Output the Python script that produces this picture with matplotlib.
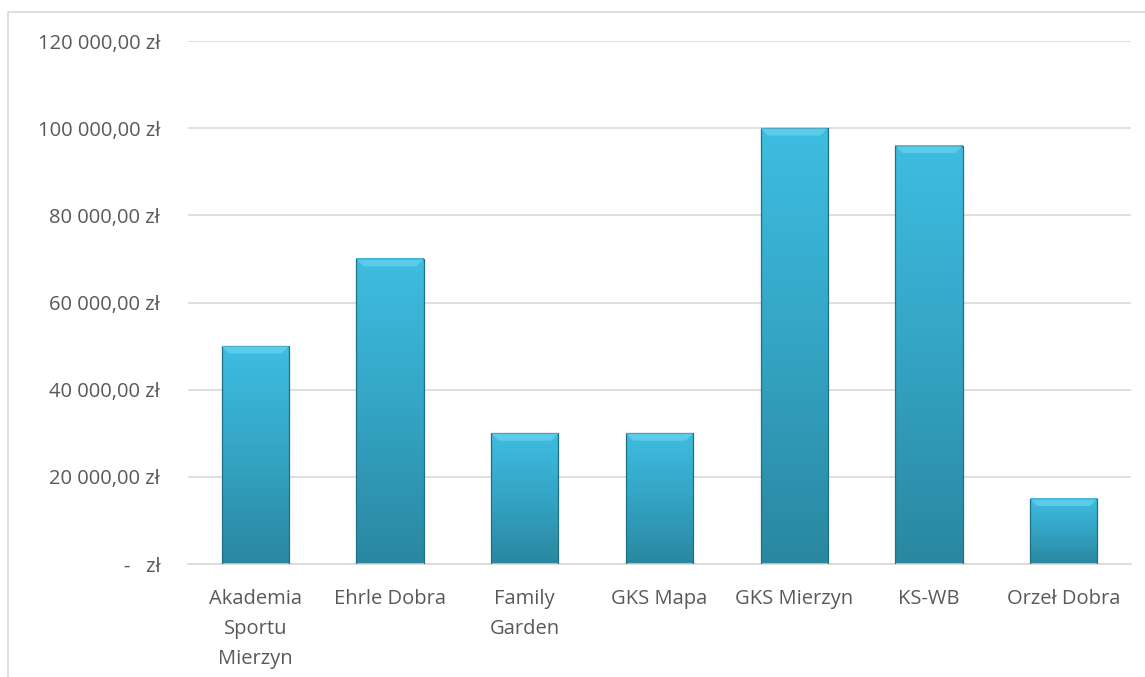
import matplotlib.pyplot as plt
import numpy as np
from matplotlib.ticker import FuncFormatter
from matplotlib.patches import Rectangle
from matplotlib.colors import LinearSegmentedColormap

plt.rcParams['font.family'] = ['Open Sans', 'DejaVu Sans']

labels = ['Akademia\nSportu\nMierzyn', 'Ehrle Dobra', 'Family\nGarden', 'GKS Mapa',
          'GKS Mierzyn', 'KS-WB', 'Orzeł Dobra']
values = [50000, 70000, 30000, 30000, 100000, 96000, 15000]
yticks = [0, 20000, 40000, 60000, 80000, 100000, 120000]

FONT_SIZE = 14.5
TEXT_COLOR = '#595959'
GRID_COLOR = '#d9d9d9'


def zl(v, pos=None):
    if v == 0:
        return '-   zł'
    s = '{:,.2f}'.format(v).replace(',', ' ').replace('.', ',')
    return s + ' zł'


fig = plt.figure(figsize=(11.45, 6.77), dpi=100)
ax = fig.add_axes([0.1642, 0.1669, 0.8236, 0.7725])

x = np.arange(len(labels))
bars = ax.bar(x, values, width=0.5, color='none', edgecolor='#1f6f85', linewidth=0.9, zorder=3)

# vertical gradient inside each bar, lighter at the top
grad = LinearSegmentedColormap.from_list('bar', ['#2a87a0', '#34a4c4', '#3ebde0'])
ramp = np.linspace(0, 1, 256).reshape(-1, 1)
for b in bars:
    x0, w, h = b.get_x(), b.get_width(), b.get_height()
    ax.imshow(ramp, cmap=grad, origin='lower', aspect='auto',
              extent=[x0, x0 + w, 0, h], zorder=2)
    # bevel on top edge
    bev = h - 1700
    ax.fill([x0, x0 + w, x0 + w - 0.055, x0 + 0.055], [h, h, bev, bev],
            color='#66d2ee', alpha=0.75, zorder=3, linewidth=0)

ax.set_xlim(-0.5, len(labels) - 0.5)
ax.set_ylim(0, 120000)
ax.set_yticks(yticks)
ax.yaxis.set_major_formatter(FuncFormatter(zl))
ax.set_xticks(x)
ax.set_xticklabels(labels, fontsize=FONT_SIZE, color=TEXT_COLOR, linespacing=1.68)
ax.tick_params(axis='y', labelsize=FONT_SIZE, labelcolor=TEXT_COLOR, length=0, pad=20)
ax.tick_params(axis='x', length=0, pad=18)
ax.grid(axis='y', color=GRID_COLOR, linewidth=1.2, zorder=0)
ax.set_axisbelow(True)
for s in ['top', 'right', 'left']:
    ax.spines[s].set_visible(False)
ax.spines['bottom'].set_color(GRID_COLOR)
ax.spines['bottom'].set_linewidth(1.2)

# chart-area border (only top and left visible in the crop)
fig.patches.append(Rectangle((8 / 1145, -0.2), 2, 1.2 - 12 / 677, transform=fig.transFigure,
                             fill=False, edgecolor=GRID_COLOR, linewidth=1.2))

plt.savefig('out.png', dpi=100)
